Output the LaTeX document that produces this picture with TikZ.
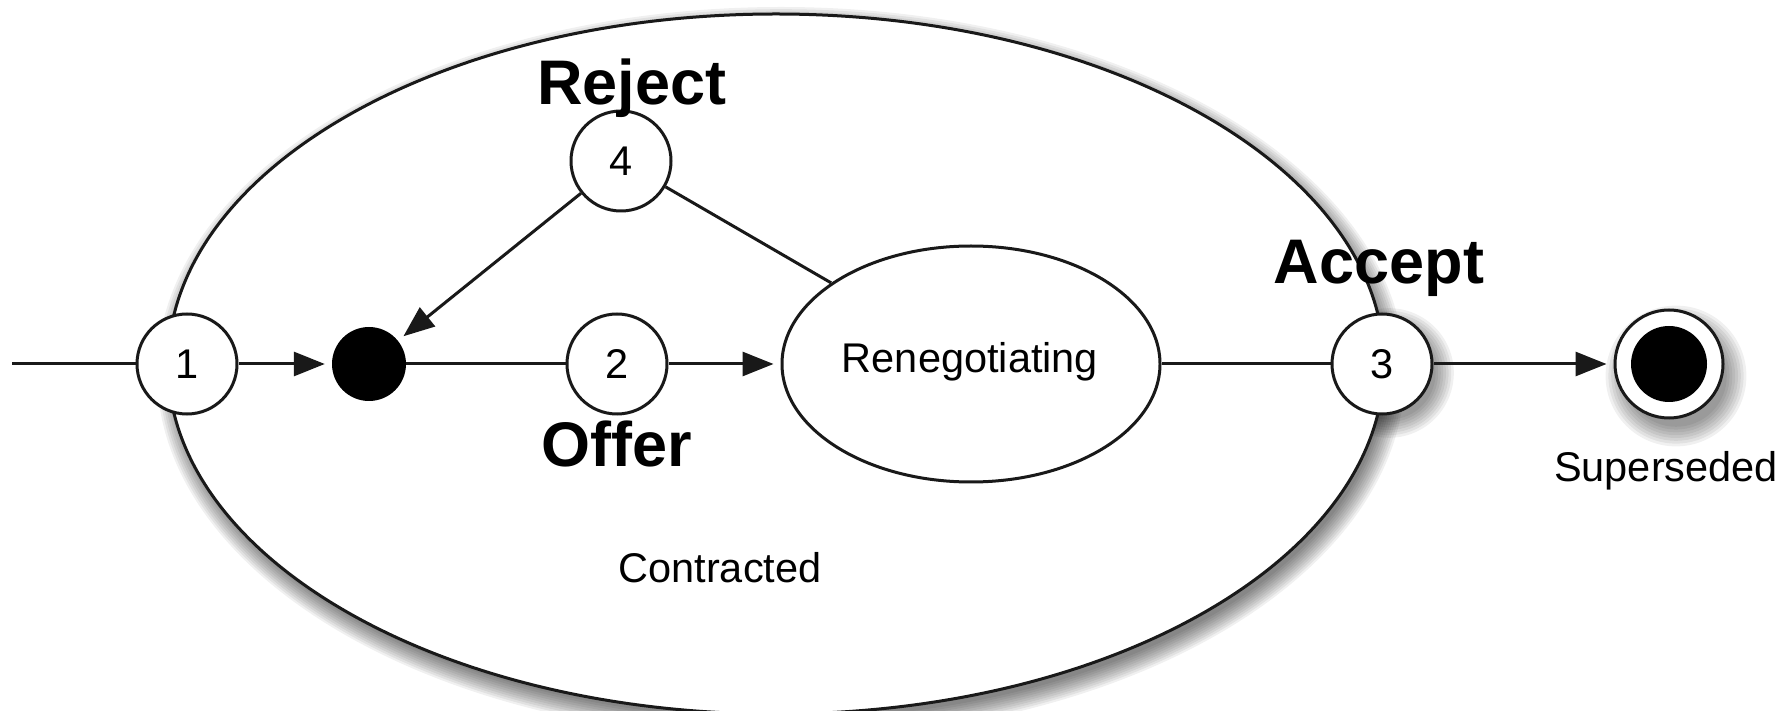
\documentclass[tikz,border=0pt]{standalone}
\usepackage{fontspec}
\setmainfont{Liberation Sans}
\usetikzlibrary{shapes.geometric,arrows.meta}
\tikzset{
  line/.style={line width=3pt, draw=black!90},
  st/.style={circle, minimum size=100pt, inner sep=0pt, draw=black!90, line width=3pt, fill=white, font=\fontsize{41.5}{48}\selectfont},
  arr/.style={line, -{Triangle[length=31pt,width=24pt]}, shorten >=7pt},
  blab/.style={font=\fontsize{63}{70}\selectfont\bfseries, anchor=base, inner sep=0pt},
  slab/.style={font=\fontsize{41.5}{48}\selectfont, anchor=base, inner sep=0pt},
  shadowlayer/.style={fill=black, opacity=0.06},
}
\begin{document}
\begin{tikzpicture}[x=1pt,y=1pt]
\useasboundingbox (0,0) rectangle (1783,710);
\fill[white] (0,0) rectangle (1783,710);
% soft shadows
\foreach \i in {1,...,10}{
  \fill[shadowlayer] (781,337) ellipse [x radius={602+2.2*\i}, y radius={344+2.2*\i}];
}
\foreach \i in {1,...,8}{
  \fill[shadowlayer] (1389,337) circle ({44+2.6*\i});
  \fill[shadowlayer] (1676,334) circle ({48+2.8*\i});
}
% big state
\node[ellipse, draw=black!90, line width=3pt, fill=white, minimum width=1216pt, minimum height=700pt, inner sep=0pt] (big) at (776,346) {};
% inner states
\node[st] (c1) at (187,346) {1};
\node[circle, fill=black, minimum size=74pt, inner sep=0pt] (dot) at (369,346) {};
\node[st] (c2) at (617,346) {2};
\node[st] (c4) at (621,549) {4};
\node[ellipse, draw=black!90, line width=3pt, fill=white, minimum width=378pt, minimum height=236pt, inner sep=0pt] (ren) at (971,346) {};
\node[slab] (rentext) at (970,337) {Renegotiating};
\node[st] (c3) at (1382,346) {3};
\node[circle, draw=black!90, line width=3pt, fill=white, minimum size=108pt, inner sep=0pt] (fin) at (1669,346) {};
\node[circle, fill=black, minimum size=76pt, inner sep=0pt] (finin) at (1669,346) {};
% connectors
\coordinate (start) at (12,346);
\draw[line] (start) -- (c1);
\draw[arr] (c1) -- (dot);
\draw[line] (dot) -- (c2);
\draw[arr] (c2) -- (ren);
\draw[line] (ren) -- (c4);
\draw[arr] (c4) -- (dot);
\draw[line] (ren) -- (c3);
\draw[arr] (c3) -- (fin);
% labels
\node[blab] (lreject) at (632,605) {Reject};
\node[blab] (loffer) at (617,243) {Offer};
\node[blab] (laccept) at (1379,426) {Accept};
\node[slab] (lcontracted) at (720,128) {Contracted};
\node[slab] (lsuperseded) at (1666,228) {Superseded};
\end{tikzpicture}
\end{document}
